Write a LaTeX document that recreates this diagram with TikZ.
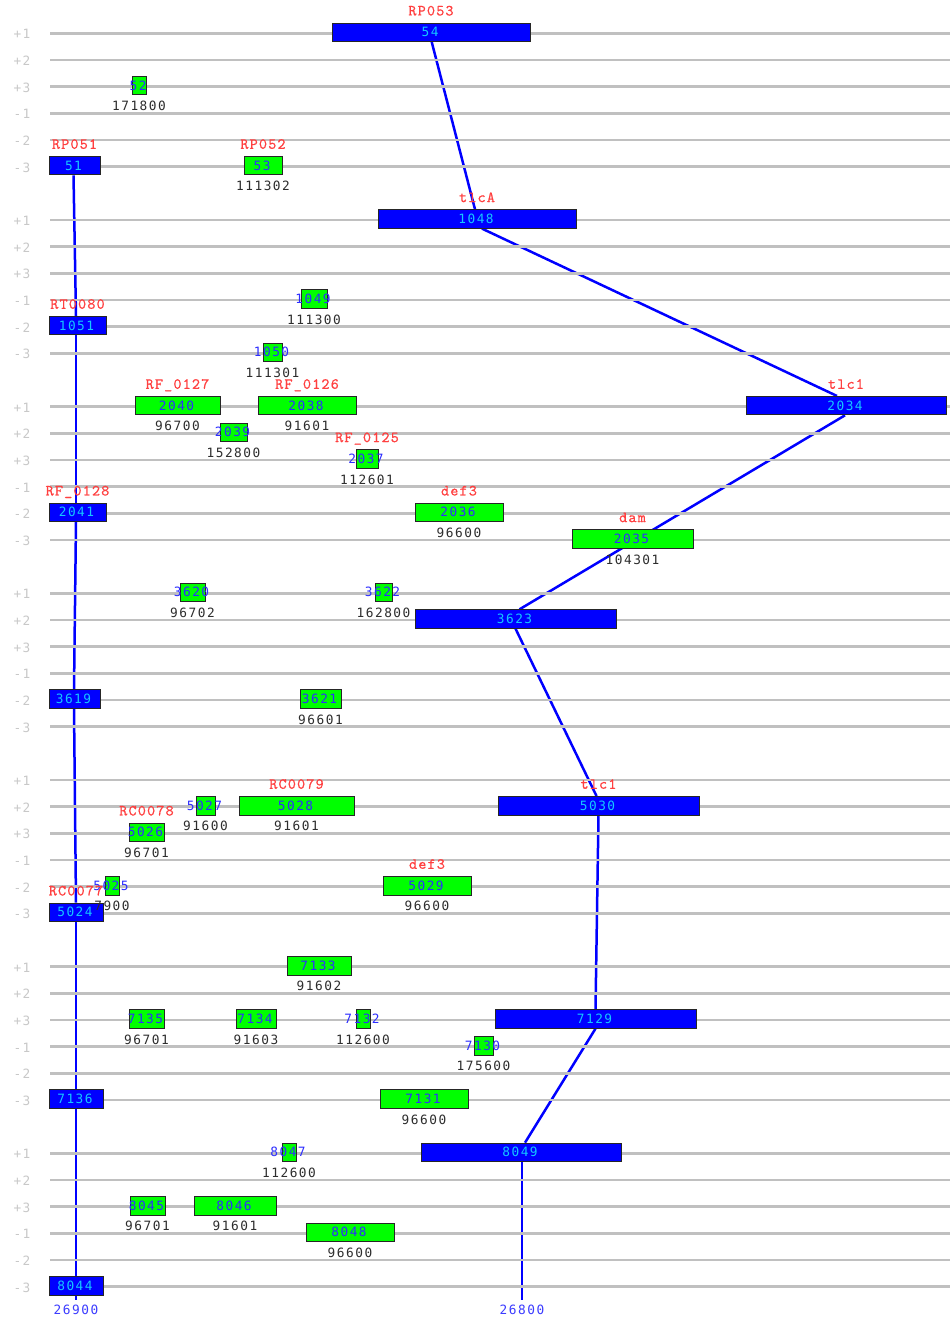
\documentclass[tikz,border=0pt]{standalone}
\usepackage{fontspec}
\newfontfamily\numfont{DejaVu Sans Mono}[LetterSpace=11.7]
\newfontfamily\redfont{lmmono10-regular.otf}[LetterSpace=7.2,FakeBold=0.6]
\usetikzlibrary{calc}
\definecolor{trackgray}{RGB}{192,192,192}
\definecolor{tracklbl}{RGB}{200,200,200}
\definecolor{geneblue}{RGB}{0,0,255}
\definecolor{genegreen}{RGB}{0,255,0}
\definecolor{cyantxt}{RGB}{20,200,255}
\definecolor{bluetxt}{RGB}{45,45,255}
\definecolor{redtxt}{RGB}{255,64,64}
\definecolor{darktxt}{RGB}{45,45,45}
\definecolor{axistxt}{RGB}{60,60,255}
\definecolor{connblue}{RGB}{0,0,255}
\pgfdeclarelayer{bg}
\pgfdeclarelayer{cn}
\pgfdeclarelayer{trk}
\pgfsetlayers{bg,cn,trk,main}
\newcommand{\gene}[7]{%
  \pgfmathsetmacro{\gy}{33.3+26.667*(7*#3+#4)-1}%
  \pgfmathsetmacro{\gx}{(#5+#6)/2}%
  \pgfmathsetmacro{\gw}{#6-#5}%
  \node[#1box, minimum width=\gw pt] (#2) at (\gx,\gy) {};%
  \node[#1txt] (#2t) at (\gx-1,\gy) {#7};%
}
\newcommand{\toplbl}[2]{\node[redlbl] (#1a) at ([yshift=21.6pt]#1.center) {#2};}
\newcommand{\botlbl}[2]{\node[darklbl] (#1b) at ([yshift=-20.6pt]#1.center) {#2};}
\begin{document}
\begin{tikzpicture}[x=1pt,y=-1pt,
  numtext/.style={font=\numfont\fontsize{12.8pt}{14pt}\selectfont, inner sep=0pt, text height=9pt, text depth=0pt},
  bbox/.style={draw=black!85, line width=0.8pt, fill=geneblue, minimum height=18.5pt, inner sep=0pt},
  gbox/.style={draw=black!85, line width=0.8pt, fill=genegreen, minimum height=18.5pt, inner sep=0pt},
  btxt/.style={numtext, text=cyantxt},
  gtxt/.style={numtext, text=bluetxt},
  redlbl/.style={font=\redfont\fontsize{15.5pt}{17pt}\selectfont, text=redtxt, inner sep=0pt, text height=9.5pt, text depth=0pt},
  darklbl/.style={numtext, text=darktxt},
  trklbl/.style={numtext, text=tracklbl},
  axlbl/.style={numtext, text=axistxt},
  track/.style={draw=trackgray, line width=2.7pt},
  conn/.style={draw=connblue, line width=2.5pt}]
\useasboundingbox (0,0) rectangle (950,1322);
\begin{pgfonlayer}{bg}
\fill[white] (0,0) rectangle (950,1322);
\end{pgfonlayer}
% tracks and track labels
\begin{pgfonlayer}{trk}
\foreach \k in {0,...,6}{
  \foreach \j/\l in {0/+1,1/+2,2/+3,3/-1,4/-2,5/-3}{
    \draw[track] (50,{33.3+26.667*(7*\k+\j)}) -- (950,{33.3+26.667*(7*\k+\j)});
    \node[trklbl] (tl-\k-\j) at (22,{33.3+26.667*(7*\k+\j)+1}) {\l};
  }
}
\end{pgfonlayer}
% group 1
\gene{g}{n52}{0}{2}{132}{146}{52}
\gene{g}{n53}{0}{5}{244}{282}{53}
\gene{b}{n54}{0}{0}{332}{530}{54}
\gene{b}{n51}{0}{5}{49}{100}{51}
% group 2
\gene{g}{n1049}{1}{3}{301}{327}{1049}
\gene{g}{n1050}{1}{5}{263}{282}{1050}
\gene{b}{n1048}{1}{0}{378}{576}{1048}
\gene{b}{n1051}{1}{4}{49}{106}{1051}
% group 3
\gene{g}{n2040}{2}{0}{135}{220}{2040}
\gene{g}{n2038}{2}{0}{258}{356}{2038}
\gene{g}{n2039}{2}{1}{220}{247}{2039}
\gene{g}{n2037}{2}{2}{356}{378}{2037}
\gene{g}{n2036}{2}{4}{415}{503}{2036}
\gene{g}{n2035}{2}{5}{572}{693}{2035}
\gene{b}{n2034}{2}{0}{746}{946}{2034}
\gene{b}{n2041}{2}{4}{49}{106}{2041}
% group 4
\gene{g}{n3620}{3}{0}{180}{205}{3620}
\gene{g}{n3622}{3}{0}{375}{392}{3622}
\gene{g}{n3621}{3}{4}{300}{341}{3621}
\gene{b}{n3623}{3}{1}{415}{616}{3623}
\gene{b}{n3619}{3}{4}{49}{100}{3619}
% group 5
\gene{g}{n5027}{4}{1}{196}{215}{5027}
\gene{g}{n5028}{4}{1}{239}{354}{5028}
\gene{g}{n5026}{4}{2}{129}{164}{5026}
\gene{g}{n5025}{4}{4}{105}{119}{5025}
\gene{g}{n5029}{4}{4}{383}{471}{5029}
\gene{b}{n5030}{4}{1}{498}{699}{5030}
\gene{b}{n5024}{4}{5}{49}{103}{5024}
% group 6
\gene{g}{n7133}{5}{0}{287}{351}{7133}
\gene{g}{n7135}{5}{2}{129}{164}{7135}
\gene{g}{n7134}{5}{2}{236}{276}{7134}
\gene{g}{n7132}{5}{2}{356}{370}{7132}
\gene{g}{n7130}{5}{3}{474}{493}{7130}
\gene{g}{n7131}{5}{5}{380}{468}{7131}
\gene{b}{n7129}{5}{2}{495}{696}{7129}
\gene{b}{n7136}{5}{5}{49}{103}{7136}
% group 7
\gene{g}{n8047}{6}{0}{282}{296}{8047}
\gene{g}{n8045}{6}{2}{130}{165}{8045}
\gene{g}{n8046}{6}{2}{194}{276}{8046}
\gene{g}{n8048}{6}{3}{306}{394}{8048}
\gene{b}{n8049}{6}{0}{421}{621}{8049}
\gene{b}{n8044}{6}{5}{49}{103}{8044}
% labels above
\toplbl{n54}{RP053}
\toplbl{n51}{RP051}
\toplbl{n53}{RP052}
\toplbl{n1048}{tlcA}
\toplbl{n1051}{RT0080}
\toplbl{n2040}{RF\_0127}
\toplbl{n2038}{RF\_0126}
\toplbl{n2034}{tlc1}
\toplbl{n2037}{RF\_0125}
\toplbl{n2041}{RF\_0128}
\toplbl{n2036}{def3}
\toplbl{n2035}{dam}
\toplbl{n5028}{RC0079}
\toplbl{n5030}{tlc1}
\toplbl{n5026}{RC0078}
\toplbl{n5029}{def3}
\toplbl{n5024}{RC0077}
% labels below
\botlbl{n52}{171800}
\botlbl{n53}{111302}
\botlbl{n1049}{111300}
\botlbl{n1050}{111301}
\botlbl{n2040}{96700}
\botlbl{n2038}{91601}
\botlbl{n2039}{152800}
\botlbl{n2037}{112601}
\botlbl{n2036}{96600}
\botlbl{n2035}{104301}
\botlbl{n3620}{96702}
\botlbl{n3622}{162800}
\botlbl{n3621}{96601}
\botlbl{n5027}{91600}
\botlbl{n5028}{91601}
\botlbl{n5026}{96701}
\botlbl{n5025}{7900}
\botlbl{n5029}{96600}
\botlbl{n7133}{91602}
\botlbl{n7135}{96701}
\botlbl{n7134}{91603}
\botlbl{n7132}{112600}
\botlbl{n7130}{175600}
\botlbl{n7131}{96600}
\botlbl{n8047}{112600}
\botlbl{n8045}{96701}
\botlbl{n8046}{91601}
\botlbl{n8048}{96600}
% axis
\coordinate (ax1) at (76,1300);
\coordinate (ax2) at (522,1300);
\node[axlbl] (axl1) at (76,1310) {26900};
\node[axlbl] (axl2) at (522,1310) {26800};
% connectors
\begin{pgfonlayer}{cn}
\draw[conn] ([xshift=0.7pt]n54.south) -- ([xshift=-2pt]n1048.north);
\draw[conn] ([xshift=5pt]n1048.south) -- ([xshift=-9pt]n2034.north);
\draw[conn] ([xshift=-1pt]n2034.south) -- ([xshift=4pt]n3623.north);
\draw[conn] (n3623.south) -- ([xshift=-2pt]n5030.north);
\draw[conn] (n5030.south) -- (n7129.north);
\draw[conn] (n7129.south) -- ([xshift=4pt]n8049.north);
\draw[conn] ([xshift=1pt]n8049.south) -- (ax2);
\draw[conn] ([xshift=-1pt]n51.south) -- ([xshift=-1.5pt]n1051.north);
\draw[conn] ([xshift=-1.5pt]n1051.south) -- ([xshift=-1.5pt]n2041.north);
\draw[conn] ([xshift=-1.5pt]n2041.south) -- ([xshift=-0.5pt]n3619.north);
\draw[conn] ([xshift=-0.5pt]n3619.south) -- (n5024.north);
\draw[conn] (n5024.south) -- (n7136.north);
\draw[conn] (n7136.south) -- (n8044.north);
\draw[conn] (n8044.south) -- (ax1);
\end{pgfonlayer}
\end{tikzpicture}
\end{document}
